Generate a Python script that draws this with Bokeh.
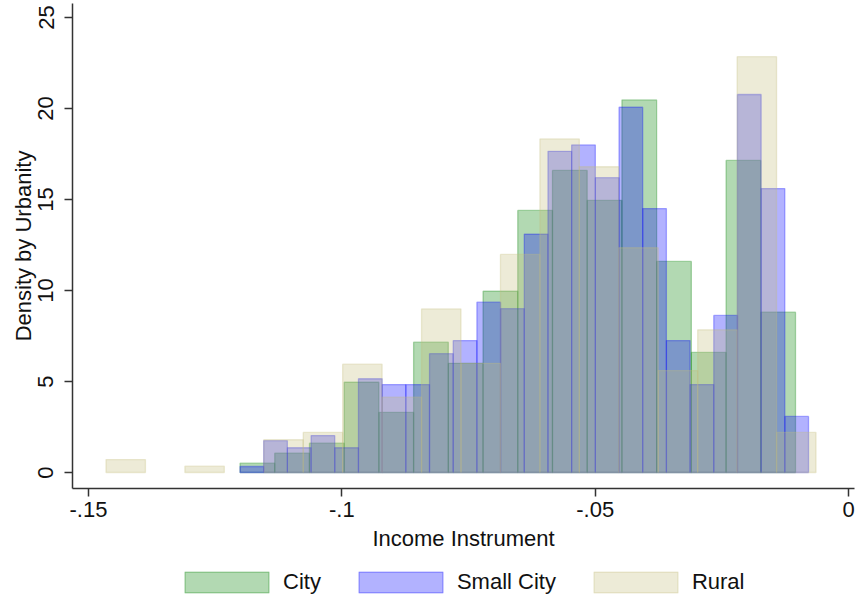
from bokeh.plotting import figure
from bokeh.layouts import column
from bokeh.models import FixedTicker, CustomJSTickFormatter, Legend, LegendItem, ColumnDataSource, Range1d
from bokeh.embed import file_html
from bokeh.resources import INLINE

# ---- data ----
city_start = -0.12010
city_width = 0.006852
city_density = [0.51, 1.06, 1.61, 4.96, 3.30, 7.16, 6.00, 9.96, 14.40, 16.60,
                14.95, 20.47, 11.60, 6.60, 17.15, 8.81]

small_start = -0.12010
small_width = 0.004675
small_density = [0.33, 1.75, 1.36, 2.03, 1.36, 5.15, 4.83, 4.83, 6.53, 7.25,
                 9.36, 9.00, 13.10, 17.65, 18.00, 16.20, 20.07, 14.50, 7.25, 4.83,
                 8.63, 20.77, 15.60, 3.08]

rural_start = -0.14655
rural_width = 0.007785
rural_density = [0.71, 0.0, 0.35, 0.0, 1.80, 2.20, 5.95, 4.14, 8.99, 6.00,
                 11.98, 18.33, 16.80, 12.35, 5.60, 7.84, 22.85, 2.20]

series_names = ["City", "Small City", "Rural"]
x_ticks = [-0.15, -0.1, -0.05, 0.0]
y_ticks = [0, 5, 10, 15, 20, 25]

FONT = "Liberation Sans"
FS = "22px"

green = (0, 128, 0)
blue = (0, 0, 255)
khaki = (195, 190, 122)
styles = [green, blue, khaki]


def bins(start, width, dens):
    left, right, top = [], [], []
    for i, d in enumerate(dens):
        if d <= 0:
            continue
        l = start + i * width
        left.append(l)
        right.append(l + width)
        top.append(d)
    return ColumnDataSource(dict(left=left, right=right, top=top, bottom=[0] * len(top)))


def style(c):
    return dict(fill_color=c, fill_alpha=0.3, line_color=c, line_alpha=0.3, line_width=1.3)


p = figure(width=856, height=560, output_backend="svg", toolbar_location=None,
           x_range=Range1d(-0.153158, 0.001174), y_range=Range1d(-0.879, 25.77),
           min_border_left=72, min_border_right=2, min_border_top=3, min_border_bottom=72)
p.outline_line_color = None
p.xgrid.visible = False
p.ygrid.visible = False
p.background_fill_color = "white"

srcs = [bins(city_start, city_width, city_density),
        bins(small_start, small_width, small_density),
        bins(rural_start, rural_width, rural_density)]
for s, c in zip(srcs, styles):
    p.quad(left="left", right="right", top="top", bottom="bottom", source=s, **style(c))

for ax in (p.xaxis[0], p.yaxis[0]):
    ax.axis_line_color = "#333333"
    ax.axis_line_width = 1.5
    ax.major_tick_line_color = "#333333"
    ax.major_tick_line_width = 1.5
    ax.major_tick_out = 8
    ax.major_tick_in = 0
    ax.minor_tick_out = 0
    ax.minor_tick_in = 0
    ax.major_label_text_font = FONT
    ax.major_label_text_font_size = FS
    ax.major_label_text_color = "#111111"
    ax.axis_label_text_font = FONT
    ax.axis_label_text_font_size = FS
    ax.axis_label_text_font_style = "normal"
    ax.axis_label_text_color = "#111111"

p.xaxis.ticker = FixedTicker(ticks=x_ticks)
p.xaxis.formatter = CustomJSTickFormatter(code="""
let s = tick.toFixed(2);
s = s.replace(/0+$/, '');
s = s.replace('0.', '.');
if (s == '.' || s == '-.') { s = '0'; }
return s;
""")
p.xaxis.axis_label = "Income Instrument"
p.xaxis.major_label_standoff = 5
p.xaxis.axis_label_standoff = 6

p.yaxis.ticker = FixedTicker(ticks=y_ticks)
p.yaxis.major_label_orientation = "vertical"
p.yaxis.axis_label = "Density by Urbanity"
p.yaxis.major_label_standoff = 11
p.yaxis.axis_label_standoff = 0

# legend strip below the chart (same sources; their bars fall outside this strip's ranges)
lg = figure(width=856, height=40, output_backend="svg", toolbar_location=None,
            x_range=Range1d(10, 11), y_range=Range1d(10, 11), min_border=0,
            x_axis_location=None, y_axis_location=None)
lg.outline_line_color = None
lg.xgrid.visible = False
lg.ygrid.visible = False
items = []
for name, s, c in zip(series_names, srcs, styles):
    r = lg.quad(left="left", right="right", top="top", bottom="bottom", source=s, **style(c))
    items.append(LegendItem(label=name, renderers=[r]))

legend = Legend(items=items, orientation="horizontal", location=(102, 5),
                glyph_width=105, glyph_height=26, label_height=26,
                label_standoff=4, spacing=27, padding=0, margin=0,
                border_line_color=None, background_fill_alpha=0,
                label_text_font=FONT, label_text_font_size=FS,
                label_text_color="#111111")
lg.add_layout(legend, "center")

layout = column(p, lg, spacing=0)
open("out.html", "w").write(file_html(layout, INLINE))
